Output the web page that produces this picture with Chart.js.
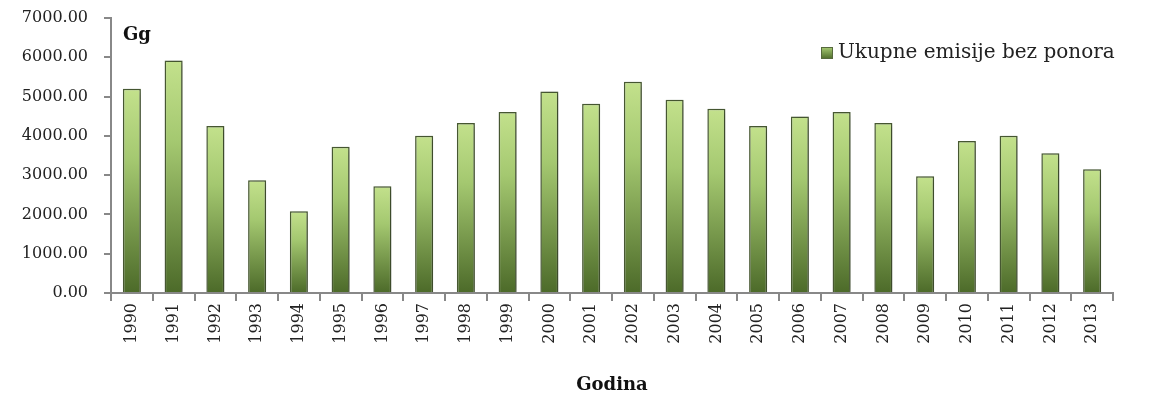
<!DOCTYPE html>
<html>
<head>
<meta charset="utf-8">
<script src="https://cdn.jsdelivr.net/npm/chart.js@4"></script>
<style>
  html, body { margin: 0; padding: 0; background: #fff; }
  #wrap { width: 1156px; height: 402px; }
</style>
</head>
<body>
<div id="wrap"><canvas id="myChart" width="1156" height="402"></canvas></div>
<script>
// data
var godine = ["1990", "1991", "1992", "1993", "1994", "1995", "1996", "1997", "1998", "1999", "2000", "2001",
  "2002", "2003", "2004", "2005", "2006", "2007", "2008", "2009", "2010", "2011", "2012", "2013"];
var emisije = [5200, 5920, 4250, 2870, 2080, 3720, 2720, 4000, 4330, 4610, 5130, 4820,
  5380, 4920, 4690, 4250, 4490, 4610, 4330, 2970, 3870, 4000, 3560, 3150];
var yTicks = [0, 1000, 2000, 3000, 4000, 5000, 6000, 7000];

var serif = "'DejaVu Serif', 'Liberation Serif', serif";

// light top, dark bottom for each bar
function barFill(context) {
  var chart = context.chart;
  if (context.type !== "data" || !chart.chartArea || !chart.scales.y) {
    return "#7a9a4c";
  }
  var y = chart.scales.y;
  var top = y.getPixelForValue(context.raw);
  var bottom = y.getPixelForValue(0);
  var g = chart.ctx.createLinearGradient(0, top, 0, bottom);
  g.addColorStop(0, "#c3e18c");
  g.addColorStop(0.35, "#a4c870");
  g.addColorStop(1, "#4c6a29");
  return g;
}

var extras = {
  id: "extras",
  beforeDatasetsDraw: function (chart) {
    var ctx = chart.ctx;
    ctx.save();
    ctx.shadowColor = "rgba(0,0,0,0.28)";
    ctx.shadowBlur = 6;
    ctx.shadowOffsetX = 2;
    ctx.shadowOffsetY = 1;
  },
  afterDatasetsDraw: function (chart) {
    chart.ctx.restore();
  },
  afterDraw: function (chart) {
    var ctx = chart.ctx;
    ctx.save();
    // "Gg" unit label
    ctx.fillStyle = "#111";
    ctx.font = "bold 18px " + serif;
    ctx.textBaseline = "alphabetic";
    ctx.fillText("Gg", chart.chartArea.left + 12, 40);

    // legend, top right inside the plot
    var lg = ctx.createLinearGradient(0, 47, 0, 59);
    lg.addColorStop(0, "#a8cc74");
    lg.addColorStop(1, "#4c6a29");
    ctx.fillStyle = lg;
    ctx.fillRect(821, 47, 12, 12);
    ctx.strokeStyle = "#56693d";
    ctx.lineWidth = 1;
    ctx.strokeRect(821.5, 47.5, 11, 11);
    ctx.fillStyle = "#222";
    ctx.font = "20px " + serif;
    ctx.textBaseline = "middle";
    ctx.fillText(chart.data.datasets[0].label, 838, 53);
    ctx.restore();
  }
};

var ctx = document.getElementById("myChart").getContext("2d");
var myChart = new Chart(ctx, {
  type: "bar",
  data: {
    labels: godine,
    datasets: [
      {
        label: "Ukupne emisije bez ponora",
        data: emisije,
        backgroundColor: barFill,
        borderColor: "#4a5c34",
        borderWidth: 1.5,
        categoryPercentage: 0.8,
        barPercentage: 0.54,
      },
    ],
  },
  plugins: [extras],
  options: {
    responsive: false,
    animation: false,
    devicePixelRatio: 1,
    layout: {
      padding: { top: 18, right: 43, bottom: 3, left: 14 },
    },
    plugins: {
      tooltip: { enabled: false },
      legend: { display: false },
    },
    scales: {
      x: {
        offset: true,
        grid: {
          display: true,
          offset: true,
          drawOnChartArea: false,
          tickLength: 8,
          color: "#888",
          lineWidth: 2,
        },
        border: { color: "#888", width: 2 },
        ticks: {
          minRotation: 90,
          maxRotation: 90,
          autoSkip: false,
          color: "#222",
          font: { family: serif, size: 16 },
          padding: 2,
        },
        title: {
          display: true,
          text: "Godina",
          color: "#111",
          font: { family: serif, size: 18, weight: "bold" },
          padding: { top: 0, bottom: 3 },
        },
        afterFit: function (scale) {
          scale.height = 106;
        },
      },
      y: {
        min: 0,
        max: 7000,
        afterBuildTicks: function (scale) {
          scale.ticks = yTicks.map(function (v) { return { value: v }; });
        },
        grid: {
          display: true,
          drawOnChartArea: false,
          tickLength: 7,
          color: "#888",
          lineWidth: 2,
        },
        border: { color: "#888", width: 2 },
        ticks: {
          color: "#222",
          font: { family: serif, size: 16 },
          padding: 16,
          callback: function (value) {
            return Number(value).toFixed(2);
          },
        },
        afterFit: function (scale) {
          scale.width = 97;
          scale.paddingTop = 0;
          scale.paddingBottom = 0;
        },
      },
    },
  },
});
</script>
</body>
</html>
